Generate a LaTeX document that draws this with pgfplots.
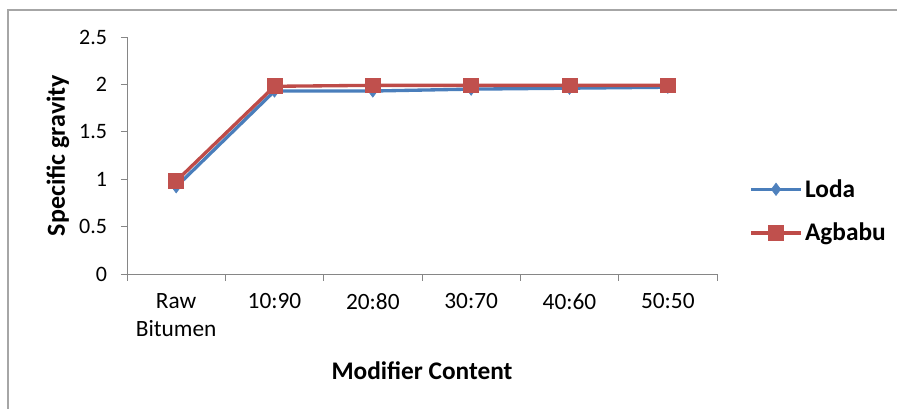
\documentclass[border=0pt]{standalone}
\usepackage{pgfplots}
\pgfplotsset{compat=1.18}
\usepackage{fontspec}
\setmainfont{Carlito}
\definecolor{lodablue}{HTML}{4A7EBB}
\definecolor{lodamark}{HTML}{4F81BD}
\definecolor{agred}{HTML}{BE4B48}
\definecolor{agmark}{HTML}{C0504D}
\definecolor{axgray}{HTML}{868686}
\begin{document}
\begin{tikzpicture}[x=1pt,y=1pt]
\path[use as bounding box] (-95.25,-101.25) rectangle (577.5,205.5);
\draw[color=gray!70, line width=0.8pt] (-89.25,-101.5) -- (-89.25,198) -- (578,198);
\begin{axis}[
  at={(0,0)}, anchor=south west,
  scale only axis, width=442.5pt, height=177.75pt,
  xmin=-0.5, xmax=5.5, ymin=0, ymax=2.5,
  axis x line*=bottom, axis y line*=left,
  axis line style={color=axgray, line width=0.6pt, -},
  xtick={0,1,2,3,4,5},
  xticklabels={{Raw\\Bitumen},10:90,20:80,30:70,40:60,50:50},
  xticklabel style={align=center, yshift=-6.5pt, font=\fontsize{17.5}{21}\selectfont},
  major x tick style={draw=none},
  minor xtick={-0.5,0.5,1.5,2.5,3.5,4.5,5.5},
  minor x tick style={color=axgray, line width=0.6pt},
  minor tick length=5pt,
  ytick={0,0.5,1,1.5,2,2.5},
  yticklabels={0,0.5,1,1.5,2,2.5},
  y tick style={color=axgray, line width=0.6pt},
  major tick length=4.5pt,
  tick align=outside,
  yticklabel style={font=\fontsize{16.5}{18}\selectfont, xshift=-7pt},
  legend style={draw=none, fill=none, at={(1.055,0.265)}, anchor=west,
    font=\bfseries\fontsize{19}{21}\selectfont, row sep=14pt,
    inner sep=0pt,
    /tikz/every even column/.append style={column sep=0pt}},
  legend cell align=left,
  legend image code/.code={
    \draw[#1] (0pt,0pt) -- (37pt,0pt);
    \draw[#1, mark repeat=1] plot coordinates {(18.5pt,0pt)};
  },
  clip=false,
]
\addplot[color=lodablue, line width=2.5pt, mark=diamond*, mark size=4.6pt,
  mark options={fill=lodamark, draw=lodamark, line width=0.5pt}]
  coordinates {(0,0.92) (1,1.93) (2,1.93) (3,1.95) (4,1.96) (5,1.97)};
\addlegendentry{Loda}
\addplot[color=agred, line width=2.5pt, mark=square*, mark size=5.6pt,
  mark options={fill=agmark, draw=agmark, line width=0.5pt}]
  coordinates {(0,0.98) (1,1.98) (2,1.99) (3,1.99) (4,1.99) (5,1.99)};
\addlegendentry{Agbabu}
\end{axis}
\node[rotate=90, font=\bfseries\fontsize{19.5}{21}\selectfont] at (-51.75,88.9) {Specific gravity};
\node[font=\bfseries\fontsize{19}{21}\selectfont] at (221.25,-72.75) {Modifier Content};
\end{tikzpicture}
\end{document}
